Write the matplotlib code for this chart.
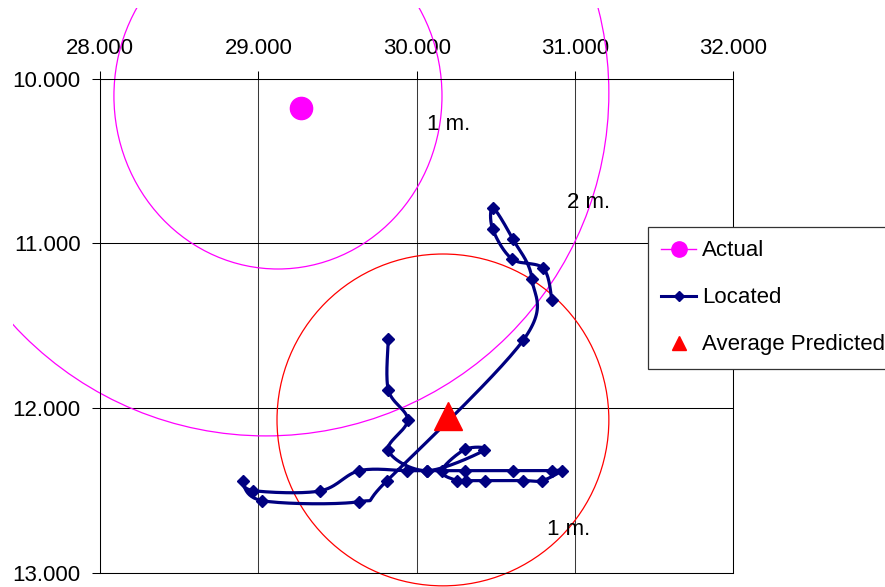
import numpy as np
import matplotlib
matplotlib.use('Agg')
import matplotlib.pyplot as plt
from matplotlib.patches import Ellipse
from matplotlib.lines import Line2D
from matplotlib.transforms import Bbox, TransformedBbox

plt.rcParams['font.family'] = ['Liberation Sans', 'DejaVu Sans']

# ---- data ----
located_x = [30.855, 30.800, 30.602, 30.480, 30.484, 30.607, 30.728, 30.674,
             29.813, 29.638, 29.025, 28.901, 28.968, 29.389, 29.638,
             29.937, 30.063, 30.305, 30.610, 30.853, 30.915,
             30.794, 30.674, 30.432, 30.312, 30.253, 30.158,
             30.307, 30.427, 30.063,
             29.821, 29.943, 29.821, 29.821]
located_y = [11.345, 11.151, 11.094, 10.912, 10.786, 10.973, 11.216, 11.586,
             12.439, 12.567, 12.561, 12.439, 12.500, 12.502, 12.379,
             12.379, 12.379, 12.379, 12.379, 12.379, 12.379,
             12.439, 12.439, 12.439, 12.439, 12.439, 12.379,
             12.249, 12.256, 12.379,
             12.256, 12.071, 11.889, 11.581]

actual_x = [29.27]
actual_y = [10.175]

avg_pred_x = [30.20]
avg_pred_y = [12.05]

circle_cx = [29.124, 29.048, 30.166]
circle_cy = [10.105, 10.087, 12.071]
circle_rx = [1.036, 2.166, 1.048]
circle_ry = [1.050, 2.081, 1.007]
circle_colors = ['#FF00FF', '#FF00FF', '#FF0000']

label_text = ['1 m.', '2 m.', '1 m.']
label_x = [30.065, 30.95, 30.823]
label_y = [10.28, 10.754, 12.738]

xticks = [28, 29, 30, 31, 32]
yticks = [10, 11, 12, 13]
xtick_labels = ['28.000', '29.000', '30.000', '31.000', '32.000']
ytick_labels = ['10.000', '11.000', '12.000', '13.000']

legend_labels = ['Actual', 'Located', 'Average Predicted']


def smooth(xs, ys, n=30):
    P = np.column_stack([xs, ys]).astype(float)
    N = len(P)
    out = []
    t = np.linspace(0, 1, n)[:, None]
    for i in range(N - 1):
        p0 = P[i - 1] if i > 0 else P[i]
        p1 = P[i]
        p2 = P[i + 1]
        p3 = P[i + 2] if i + 2 < N else P[i + 1]
        c1 = p1 + (p2 - p0) / 6.0
        c2 = p2 - (p3 - p1) / 6.0
        seg = (1 - t) ** 3 * p1 + 3 * (1 - t) ** 2 * t * c1 + 3 * (1 - t) * t ** 2 * c2 + t ** 3 * p2
        out.append(seg if i == 0 else seg[1:])
    return np.vstack(out)


W, H = 885, 587
fig = plt.figure(figsize=(W / 100, H / 100), dpi=100)
ax = fig.add_axes([100 / W, (H - 573) / H, (733.3 - 100) / W, (573 - 78.7) / H])

ax.set_xlim(28, 32)
ax.set_ylim(13, 10)
ax.xaxis.tick_top()
ax.set_xticks(xticks)
ax.set_xticklabels(xtick_labels)
ax.set_yticks(yticks)
ax.set_yticklabels(ytick_labels)
ax.tick_params(axis='both', direction='out', length=5.5, width=0.75, color='black',
               labelsize=16, pad=8.5)

for v in xticks:
    ax.axvline(v, color='#3a3a3a', lw=0.75, zorder=1)
for v in yticks:
    ax.axhline(v, color='black', lw=0.75, zorder=1)
for s in ax.spines.values():
    s.set_linewidth(0.75)
    s.set_color('black')

clip = TransformedBbox(Bbox.from_extents(13 / W, 0, 1, (H - 8) / H), fig.transFigure)
for cx, cy, rx, ry, c in zip(circle_cx, circle_cy, circle_rx, circle_ry, circle_colors):
    e = Ellipse((cx, cy), 2 * rx, 2 * ry, fill=False, edgecolor=c, lw=0.9, zorder=2)
    ax.add_patch(e)
    e.set_clip_path(None)
    e.set_clip_box(clip)

curve = smooth(located_x, located_y)
ax.plot(curve[:, 0], curve[:, 1], color='#000080', lw=2.3, zorder=3, solid_capstyle='round')
ax.plot(located_x, located_y, ls='none', marker='D', ms=6, color='#000080', zorder=4)

ax.plot(actual_x, actual_y, ls='none', marker='o', ms=16, color='#FF00FF', zorder=5)
ax.plot(avg_pred_x, avg_pred_y, ls='none', marker='^', ms=20, color='#FF0000', zorder=5)

for t, x, y in zip(label_text, label_x, label_y):
    ax.text(x, y, t, fontsize=16, ha='left', va='center', zorder=6)

handles = [
    Line2D([], [], color='#FF00FF', lw=1.0, marker='o', ms=11),
    Line2D([], [], color='#000080', lw=2.2, marker='D', ms=5.5),
    Line2D([], [], color='#FF0000', ls='none', marker='^', ms=10.5),
]
leg = fig.legend(handles, legend_labels, loc='upper left',
                 bbox_to_anchor=(648 / W, (H - 227) / H), bbox_transform=fig.transFigure,
                 frameon=True, fancybox=False, edgecolor='#333333', framealpha=1,
                 borderaxespad=0, fontsize=16, handlelength=1.55, handletextpad=0.3,
                 labelspacing=1.17, borderpad=0.6)
leg.get_frame().set_linewidth(0.9)

fig.savefig('out.png', dpi=100)
